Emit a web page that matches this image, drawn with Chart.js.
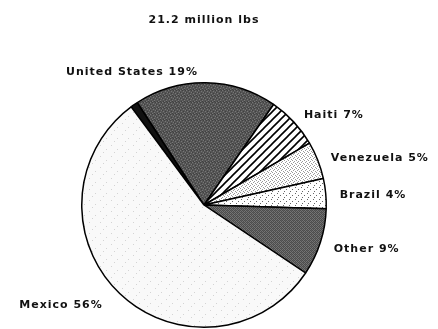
<!DOCTYPE html>
<html>
<head>
<meta charset="utf-8">
<script src="https://cdn.jsdelivr.net/npm/chart.js@4"></script>
<style>
    body { margin: 0; background: #fff; }
</style>
</head>
<body>
<canvas id="chartCanvas" width="438" height="329"></canvas>
<script>
const titleText = '21.2 million lbs';
const countries = ['', 'United States', 'Haiti', 'Venezuela', 'Brazil', 'Other', 'Mexico'];
const shares = [1, 19, 7, 5, 4, 9, 56];

// small tiles used as slice fills
function makePattern(size, draw) {
    const c = document.createElement('canvas');
    c.width = size;
    c.height = size;
    const g = c.getContext('2d');
    draw(g, size);
    return g.createPattern(c, 'repeat');
}

function dots(g, color, pts) {
    g.fillStyle = color;
    pts.forEach(function (p) { g.fillRect(p[0], p[1], 1, 1); });
}

const solidBlack = '#111';

const darkStipple = makePattern(6, function (g, s) {
    g.fillStyle = '#555';
    g.fillRect(0, 0, s, s);
    dots(g, '#777', [[0, 0], [3, 1], [1, 3], [4, 4], [5, 2], [2, 5]]);
    dots(g, '#404040', [[2, 0], [5, 0], [0, 2], [3, 3], [1, 5], [4, 5]]);
});

const stripes = makePattern(8, function (g, s) {
    g.fillStyle = '#fff';
    g.fillRect(0, 0, s, s);
    g.strokeStyle = '#000';
    g.lineWidth = 1.6;
    g.beginPath();
    g.moveTo(-1, s + 1);
    g.lineTo(s + 1, -1);
    g.moveTo(-1, 1);
    g.lineTo(1, -1);
    g.moveTo(s - 1, s + 1);
    g.lineTo(s + 1, s - 1);
    g.stroke();
});

const fineDots = makePattern(4, function (g, s) {
    g.fillStyle = '#fff';
    g.fillRect(0, 0, s, s);
    dots(g, '#9a9a9a', [[0, 0], [2, 1], [1, 2], [3, 3]]);
});

const sparseDots = makePattern(6, function (g, s) {
    g.fillStyle = '#fff';
    g.fillRect(0, 0, s, s);
    dots(g, '#666', [[1, 1], [4, 3], [2, 5]]);
});

const crossHatch = makePattern(4, function (g, s) {
    g.fillStyle = '#747474';
    g.fillRect(0, 0, s, s);
    dots(g, '#4c4c4c', [[0, 0], [2, 0], [1, 1], [3, 1], [0, 2], [2, 2], [1, 3], [3, 3]]);
    dots(g, '#5e5e5e', [[1, 0], [3, 2]]);
});

const paleSpeckle = makePattern(11, function (g, s) {
    g.fillStyle = '#f9f9f9';
    g.fillRect(0, 0, s, s);
    dots(g, '#d4d4d4', [[1, 2], [7, 6], [4, 9]]);
});

const sliceFills = [solidBlack, darkStipple, stripes, fineDots, sparseDots, crossHatch, paleSpeckle];

const labelFont = 'bold 11px "DejaVu Sans"';

// country labels set just outside each slice, plus the heading
const sliceLabels = {
    id: 'sliceLabels',
    afterDraw(chart) {
        const ctx = chart.ctx;
        const arcs = chart.getDatasetMeta(0).data;
        ctx.save();
        ctx.font = labelFont;
        ctx.letterSpacing = '1px';
        ctx.fillStyle = '#111';
        ctx.textBaseline = 'middle';
        arcs.forEach(function (arc, i) {
            if (!countries[i]) return;
            const p = arc.getProps(['x', 'y', 'startAngle', 'endAngle', 'outerRadius'], true);
            const mid = (p.startAngle + p.endAngle) / 2;
            const right = Math.cos(mid) > 0.1;
            const r = p.outerRadius + (right ? 14 : 13);
            const lx = p.x + Math.cos(mid) * r - (right ? 0 : 8);
            const ly = p.y + Math.sin(mid) * r + (right ? 3 : 2);
            ctx.textAlign = right ? 'left' : 'right';
            ctx.fillText(countries[i] + ' ' + shares[i] + '%', lx, ly);
        });
        ctx.textAlign = 'center';
        ctx.fillText(titleText, arcs[0].x, 20);
        ctx.restore();
    },
};

new Chart(document.getElementById('chartCanvas').getContext('2d'), {
    type: 'pie',
    data: {
        labels: countries,
        datasets: [
            {
                data: shares,
                backgroundColor: sliceFills,
                borderColor: '#000',
                borderWidth: 1.5,
            },
        ],
    },
    options: {
        responsive: false,
        animation: false,
        devicePixelRatio: 1,
        rotation: -36.6,
        layout: {
            padding: { left: 81, right: 111, top: 82, bottom: 1 },
        },
        plugins: {
            legend: { display: false },
            tooltip: { enabled: false },
        },
    },
    plugins: [sliceLabels],
});
</script>
</body>
</html>
